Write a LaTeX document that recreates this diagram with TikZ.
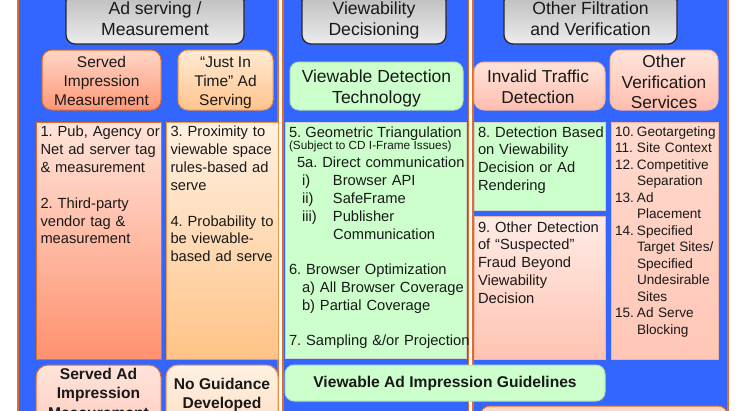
\documentclass[tikz,border=0pt]{standalone}
\usepackage{fontspec}
\setmainfont{Liberation Sans}
\usetikzlibrary{fit}
\setlength{\parindent}{0pt}
\frenchspacing
\newcommand{\fsz}[2]{\fontsize{#1pt}{#2pt}\selectfont}
\definecolor{pblue}{RGB}{51,102,255}
\definecolor{porange}{RGB}{226,107,40}
\definecolor{grn}{RGB}{204,255,204}
\definecolor{grnb}{RGB}{178,222,178}
\definecolor{lgrb}{RGB}{205,212,205}
\definecolor{salT}{RGB}{255,214,198}
\definecolor{salB}{RGB}{255,152,120}
\definecolor{salLT}{RGB}{255,228,218}
\definecolor{salLB}{RGB}{255,145,110}
\definecolor{peaT}{RGB}{255,234,212}
\definecolor{peaB}{RGB}{255,196,140}
\definecolor{peaLT}{RGB}{255,241,226}
\definecolor{peaLB}{RGB}{255,195,135}
\definecolor{pbord}{RGB}{245,150,70}
\definecolor{pnkT}{RGB}{255,228,218}
\definecolor{pnkB}{RGB}{255,190,175}
\definecolor{pnkbord}{RGB}{242,180,160}
\definecolor{pnk5T}{RGB}{255,236,230}
\definecolor{pnk5B}{RGB}{255,195,178}
\definecolor{pnk6T}{RGB}{255,218,205}
\definecolor{pnk6B}{RGB}{255,198,182}
\definecolor{txt}{RGB}{25,25,25}
\begin{document}
\begin{tikzpicture}[x=1pt,y=-1pt,
  bx/.style={inner sep=0pt, outer sep=0pt},
  panel/.style={bx, fill=pblue, draw=porange, line width=1.6pt},
  hdr/.style={bx, draw=black!85, line width=1.3pt, rounded corners=9pt, top color=black!27, bottom color=black!7},
  salsub/.style={bx, draw=porange, line width=1pt, rounded corners=10pt, top color=salT, bottom color=salB},
  peasub/.style={bx, draw=pbord, line width=1pt, rounded corners=10pt, top color=peaT, bottom color=peaB},
  grnsub/.style={bx, draw=grnb, line width=1pt, rounded corners=9pt, fill=grn},
  pnksub/.style={bx, draw=pnkbord, line width=1pt, rounded corners=10pt, top color=pnkT, bottom color=pnkB},
  sallist/.style={bx, draw=porange, line width=1pt, top color=salLT, bottom color=salLB},
  pealist/.style={bx, draw=pbord, line width=1pt, top color=peaLT, bottom color=peaLB},
  grnlist/.style={bx, draw=lgrb, line width=1pt, fill=grn},
  pnklist/.style={bx, draw=pnkbord, line width=1pt, top color=pnk5T, bottom color=pnk5B},
  pnklist6/.style={bx, draw=pnkbord, line width=1pt, top color=pnk6T, bottom color=pnk6B},
  ctxt/.style={inner sep=0pt, outer sep=0pt, anchor=north, align=center, text=txt},
  ltxt/.style={inner sep=0pt, outer sep=0pt, anchor=north west, text width=200pt, align=left, text=txt, font=\fsz{14.7}{17.9}},
  btxt/.style={inner sep=0pt, outer sep=0pt, text=txt},
]
\useasboundingbox (0,0) rectangle (750,410);
\clip (0,0) rectangle (750,410);

% panels
\node[panel, fit={(18,-10) (278,420)}] (P1) {};
\node[panel, fit={(283,-10) (468.5,420)}] (P2) {};
\node[panel, fit={(473,-10) (728,420)}] (P3) {};

% headers
\node[hdr, fit={(66,-8) (244,44)}] (H1) {};
\node[hdr, fit={(302,-8) (446,44)}] (H2) {};
\node[hdr, fit={(504,-8) (677,44)}] (H3) {};
\node[ctxt, font=\fsz{17.6}{20.8}] (H1t) at (155,0.3) {\strut Ad serving /\\Measurement};
\node[ctxt, font=\fsz{17.6}{20.8}] (H2t) at (374,0.3) {\strut Viewability\\Decisioning};
\node[ctxt, font=\fsz{17.6}{20.8}] (H3t) at (590.5,0.3) {\strut Other Filtration\\and Verification};

% sub headers
\node[salsub, fit={(42,50) (161,110)}] (S1) {};
\node[peasub, fit={(178,50) (273,110)}] (S2) {};
\node[grnsub, fit={(290,62) (463,110)}] (S3) {};
\node[pnksub, fit={(474,62) (605,110)}] (S4) {};
\node[pnksub, fit={(610,50) (718,110)}] (S5) {};
\node[ctxt, font=\fsz{15.5}{19}] (S1t) at (101.5,54) {\strut Served\\Impression\\Measurement};
\node[ctxt, font=\fsz{15.5}{19}] (S2t) at (225.5,54.3) {\strut “Just In\\Time” Ad\\Serving};
\node[ctxt, font=\fsz{17.5}{20.7}] (S3t) at (376.5,68) {\strut Viewable Detection\\Technology};
\node[ctxt, font=\fsz{17.3}{20.7}] (S4t) at (538,67.9) {\strut Invalid Traffic\\Detection};
\node[ctxt, font=\fsz{17.3}{20.8}] (S5t) at (664,52.8) {\strut Other\\Verification\\Services};

% lists
\node[sallist, fit={(36,122) (161,359)}] (L1) {};
\node[pealist, fit={(166,122) (278,359)}] (L2) {};
\node[grnlist, fit={(285,122) (466,358)}] (L3) {};
\node[grnlist, fit={(474,122) (605,210)}] (L4) {};
\node[pnklist, fit={(474,216) (605,359)}] (L5) {};
\node[pnklist6, fit={(611,122) (718,359)}] (L6) {};

\node[ltxt] (L1t) at (40.5,124) {\strut 1. Pub, Agency or\\Net ad server tag\\\& measurement\\[17.9pt]2. Third-party\\vendor tag \&\\measurement};
\node[ltxt] (L2t) at (170.5,124) {\strut 3. Proximity to\\viewable space\\rules-based ad\\serve\\[17.9pt]4. Probability to\\be viewable-\\based ad serve};
\node[btxt, anchor=base west, font=\fsz{14.7}{17.9}] (L3a) at (289,137) {5. Geometric Triangulation};
\node[btxt, anchor=base west, font=\fsz{11.8}{14}] (L3b) at (289,149) {(Subject to CD I-Frame Issues)};
\node[ltxt, font=\fsz{14.7}{17.8}] (L3c) at (289,155.5) {\strut\hspace*{8pt}5a. Direct communication\\
\hspace*{13pt}\makebox[31pt][l]{i)}Browser API\\
\hspace*{13pt}\makebox[31pt][l]{ii)}SafeFrame\\
\hspace*{13pt}\makebox[31pt][l]{iii)}Publisher\\
\hspace*{44pt}Communication\\[17.8pt]
6. Browser Optimization\\
\hspace*{13pt}a) All Browser Coverage\\
\hspace*{13pt}b) Partial Coverage\\[17.8pt]
7. Sampling \&/or Projection};
\node[ltxt] (L4t) at (478,124.5) {\strut 8. Detection Based\\on Viewability\\Decision or Ad\\Rendering};
\node[ltxt, font=\fsz{14.7}{17.75}] (L5t) at (478,219.6) {\strut 9. Other Detection\\of “Suspected”\\Fraud Beyond\\Viewability\\Decision};
\node[ltxt, font=\fsz{13.6}{16.5}] (L6t) at (615,124.45) {\strut\makebox[22pt][l]{10.}Geotargeting\\
\makebox[22pt][l]{11.}Site Context\\
\makebox[22pt][l]{12.}Competitive\\
\hspace*{22pt}Separation\\
\makebox[22pt][l]{13.}Ad\\
\hspace*{22pt}Placement\\
\makebox[22pt][l]{14.}Specified\\
\hspace*{22pt}Target Sites/\\
\hspace*{22pt}Specified\\
\hspace*{22pt}Undesirable\\
\hspace*{22pt}Sites\\
\makebox[22pt][l]{15.}Ad Serve\\
\hspace*{22pt}Blocking};

% bottom row
\node[salsub, top color=salLT, bottom color={rgb,255:red,255;green,200;blue,188}, rounded corners=12pt, fit={(36,365) (161,445)}] (B1) {};
\node[peasub, top color=peaLT, bottom color={rgb,255:red,255;green,218;blue,190}, rounded corners=12pt, fit={(166,365) (278,445)}] (B2) {};
\node[grnsub, fit={(285,365) (605,401)}] (B3) {};
\node[bx, draw=porange, line width=1pt, rounded corners=10pt, fill={rgb,255:red,255;green,215;blue,205}, fit={(480,406) (728,445)}] (B4) {};
\node[ctxt, font=\bfseries\fsz{15.6}{19.4}] (B1t) at (98.5,365.9) {\strut Served Ad\\Impression\\Measurement};
\node[ctxt, font=\bfseries\fsz{15.6}{19.4}] (B2t) at (222,375.9) {\strut No Guidance\\Developed};
\node[btxt, anchor=base, font=\bfseries\fsz{15.6}{19.4}] (B3t) at (445,387.2) {Viewable Ad Impression Guidelines};
\end{tikzpicture}
\end{document}
